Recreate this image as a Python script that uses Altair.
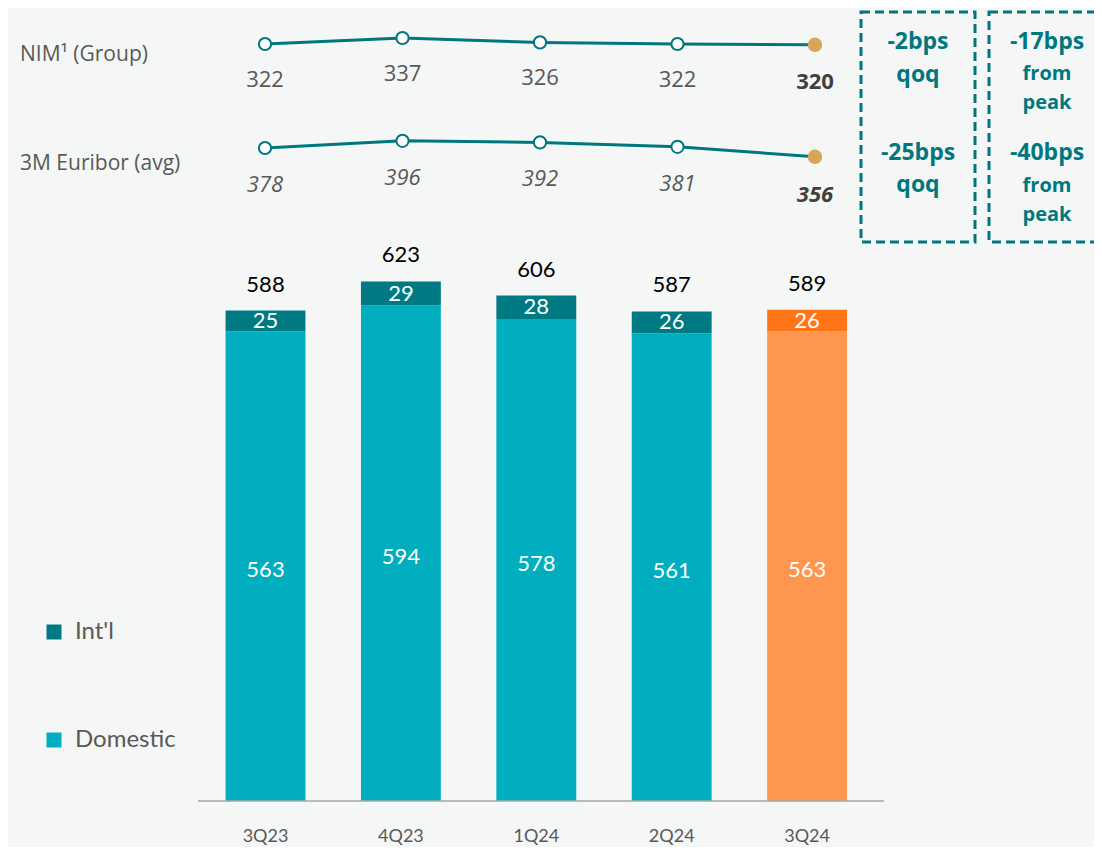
import altair as alt
import pandas as pd

# ---------------- data ----------------
quarters = ["3Q23", "4Q23", "1Q24", "2Q24", "3Q24"]
domestic = [563, 594, 578, 561, 563]
intl = [25, 29, 28, 26, 26]
totals = [588, 623, 606, 587, 589]
nim = [322, 337, 326, 322, 320]
euribor = [378, 396, 392, 381, 356]
row_labels = ["NIM\u00b9 (Group)", "3M Euribor (avg)"]
box1_lines = ["-2bps", "qoq", "-25bps", "qoq"]
box2_lines = ["-17bps", "from", "peak", "-40bps", "from", "peak"]
series_names = ["Int'l", "Domestic", "Int'l 3Q24", "Domestic 3Q24"]

# ---------------- style ----------------
W, H = 1086, 839
BG = "#F4F7F5"
TEAL_D = "#007A82"
TEAL = "#00AEBF"
OR_D = "#FF7518"
OR_L = "#FF964F"
GOLD = "#D9A557"
GRAY = "#595959"
LINE = "#00777F"

rows = []
for i, q in enumerate(quarters):
    cur = q == quarters[-1]
    rows.append(dict(quarter=q, series="Domestic 3Q24" if cur else "Domestic", dom=True,
                     y0=0, y1=domestic[i], mid=domestic[i] / 2, label=domestic[i]))
    rows.append(dict(quarter=q, series="Int'l 3Q24" if cur else "Int'l", dom=False,
                     y0=domestic[i], y1=domestic[i] + intl[i],
                     mid=domestic[i] + intl[i] / 2, label=intl[i]))
bars_df = pd.DataFrame(rows)
tot_df = pd.DataFrame(dict(quarter=quarters, total=totals))
line_df = pd.DataFrame(dict(idx=list(range(len(quarters))), nim=nim, eur=euribor,
                            last=[False] * (len(quarters) - 1) + [True]))

xb = alt.Scale(domain=quarters, range=[189.8, 866.8], paddingInner=0.41, paddingOuter=0.205)
yb = alt.Scale(domain=[0, 600], range=[793, 292.6], nice=False, zero=False)
xl = alt.Scale(domain=[0, 4], range=[257, 807], nice=False, zero=False)
yn = alt.Scale(domain=[300, 350], range=[44.8, 24.8], nice=False, zero=False)
ye = alt.Scale(domain=[350, 400], range=[151.2, 131.2], nice=False, zero=False)

bars = alt.Chart(bars_df).mark_bar(opacity=1).encode(
    x=alt.X("quarter:N", scale=xb, sort=quarters,
            axis=alt.Axis(title=None, domain=False, ticks=False, offset=-46, labelPadding=26,
                          labelFont="Lato", labelFontSize=18, labelColor=GRAY, labelAngle=0,
                          grid=False)),
    y=alt.Y("y0:Q", scale=yb, axis=None),
    y2="y1:Q",
    color=alt.Color("series:N",
                    scale=alt.Scale(domain=series_names, range=[TEAL_D, TEAL, OR_D, OR_L]),
                    legend=alt.Legend(values=["Int'l", "Domestic"], orient="none",
                                      legendX=34, legendY=612, title=None,
                                      symbolType="square", symbolSize=225,
                                      symbolStrokeWidth=0, symbolOpacity=1,
                                      labelFont="Lato", labelFontSize=24,
                                      labelColor=GRAY, rowPadding=84, labelOffset=9,
                                      padding=0)),
)


def seg_label_layer(flt, dy):
    return alt.Chart(bars_df).transform_filter(flt).mark_text(
        color="white", font="Lato", fontSize=22, baseline="middle", dy=dy).encode(
        x=alt.X("quarter:N", scale=xb, sort=quarters, axis=None),
        y=alt.Y("mid:Q", scale=yb, axis=None),
        text="label:Q",
    )


dom_labels = seg_label_layer("datum.dom", 4)
intl_labels = seg_label_layer("!datum.dom", 0)

tot_labels = alt.Chart(tot_df).mark_text(color="black", font="Lato", fontSize=22,
                                         baseline="middle", dy=-26).encode(
    x=alt.X("quarter:N", scale=xb, sort=quarters, axis=None),
    y=alt.Y("total:Q", scale=yb, axis=None),
    text="total:Q",
)

baseline = alt.Chart(pd.DataFrame({"a": [0]})).mark_rule(color="#A6A6A6", strokeWidth=1.5).encode(
    x=alt.value(190), x2=alt.value(876), y=alt.value(793))


def line_layers(field, yscale, italic, dy):
    base = alt.Chart(line_df)
    enc_x = alt.X("idx:Q", scale=xl, axis=None)
    enc_y = alt.Y(f"{field}:Q", scale=yscale, axis=None)
    ln = base.mark_line(color=LINE, strokeWidth=3).encode(x=enc_x, y=enc_y)
    pts = base.transform_filter("!datum.last").mark_point(
        filled=True, fill="white", stroke=LINE, strokeWidth=2, size=150, opacity=1,
        shape="circle").encode(x=enc_x, y=enc_y)
    lastpt = base.transform_filter("datum.last").mark_circle(
        color=GOLD, size=210, opacity=1).encode(x=enc_x, y=enc_y)
    style = "italic" if italic else "normal"
    lab = base.transform_filter("!datum.last").mark_text(
        font="Open Sans", fontSize=22, color=GRAY, fontStyle=style, dy=dy,
        baseline="middle").encode(x=enc_x, y=enc_y, text=f"{field}:Q")
    labb = base.transform_filter("datum.last").mark_text(
        font="Open Sans", fontSize=22, color="#404040", fontStyle=style, fontWeight="bold",
        dy=dy + 1, baseline="middle").encode(x=enc_x, y=enc_y, text=f"{field}:Q")
    return [ln, pts, lastpt, lab, labb]


def text_at(txt, x, y, size=21, color=GRAY, weight="normal", align="left", font="Open Sans"):
    return alt.Chart(pd.DataFrame({"t": [txt]})).mark_text(
        font=font, fontSize=size, color=color, fontWeight=weight, align=align,
        baseline="middle").encode(text="t:N", x=alt.value(x), y=alt.value(y))


left_texts = [text_at(row_labels[0], 12, 47), text_at(row_labels[1], 12, 156)]


def box(x0, x1, y0, y1):
    return alt.Chart(pd.DataFrame({"a": [0]})).mark_rect(
        fillOpacity=0, stroke=LINE, strokeWidth=3, strokeDash=[9, 5]).encode(
        x=alt.value(x0), x2=alt.value(x1), y=alt.value(y0), y2=alt.value(y1))


boxes = [box(853, 967, 4, 234), box(981, 1110, 4, 234)]

b1y = [34, 67, 145, 177]
b1s = [23, 23, 23, 23]
box1_texts = [text_at(t, 910, y, size=s, color=LINE, weight="bold", align="center")
              for t, y, s in zip(box1_lines, b1y, b1s)]
b2y = [34, 66, 95, 145, 178, 207]
b2s = [23, 20, 20, 23, 20, 20]
box2_texts = [text_at(t, 1039, y, size=s, color=LINE, weight="bold", align="center")
              for t, y, s in zip(box2_lines, b2y, b2s)]

layers = ([bars, baseline, dom_labels, intl_labels, tot_labels]
          + line_layers("nim", yn, False, 36)
          + line_layers("eur", ye, True, 37)
          + left_texts + boxes + box1_texts + box2_texts)

chart = alt.layer(*layers).resolve_scale(x="independent", y="independent").properties(
    width=W, height=H, autosize=alt.AutoSizeParams(type="none"), padding=0
).configure(background=BG).configure_view(stroke=None)

chart.save("out.html", embed_options={"renderer": "svg", "actions": False})
